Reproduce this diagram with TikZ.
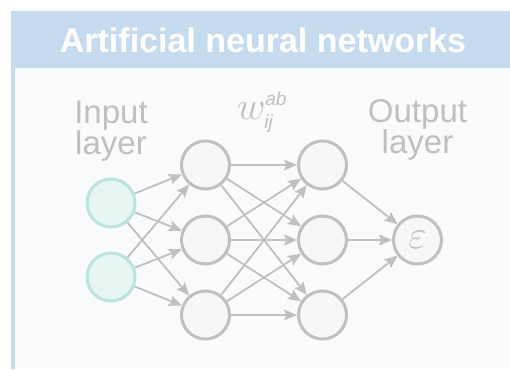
\RequirePackage{fix-cm}
\documentclass[tikz,border=0pt]{standalone}
\usepackage{fontspec}
\setmainfont{Liberation Sans}
\setsansfont{Liberation Sans}
\usetikzlibrary{positioning, arrows.meta}
\definecolor{hdrblue}{HTML}{C6DCEE}
\definecolor{panelbg}{HTML}{F9FBFD}
\definecolor{nodegray}{HTML}{C0C0C0}
\definecolor{nodefill}{HTML}{F7F7F7}
\definecolor{inteal}{HTML}{BAE4E0}
\definecolor{infill}{HTML}{E7F5F3}
\tikzstyle{neuron}     = [circle, minimum size=48pt, inner sep=0pt, line width=3pt, draw=nodegray, fill=nodefill]
\tikzstyle{inneuron}   = [neuron, draw=inteal, fill=infill]
\tikzstyle{layerlabel} = [text=nodegray, font=\fontsize{33}{27}\selectfont, align=center, inner sep=0pt]
\tikzstyle{conn}       = [-{Stealth[length=13pt,width=11pt,inset=2.5pt]}, line width=1.8pt, draw=nodegray]
\newcommand{\subit}[1]{\mbox{\fontsize{19}{19}\selectfont\itshape #1}}

\begin{document}
\begin{tikzpicture}[x=1pt, y=1pt, node distance=75pt, on grid]
            \useasboundingbox (0,0) rectangle (510,369);
            \fill[hdrblue] (11,0) rectangle (510,358);
            \fill[panelbg] (15,0) rectangle (510,301);
            \node[text=white, font=\bfseries\fontsize{34}{34}\selectfont] (title) at (263,329) {Artificial neural networks};

            \node[neuron]   (h2) at (205.5,129) {};
            \node[neuron]   (h1) [above=of h2] {};
            \node[neuron]   (h3) [below=of h2] {};
            \node[inneuron] (i1) [above left=37pt and 94.5pt of h2] {};
            \node[inneuron] (i2) [below left=37pt and 94.5pt of h2] {};
            \node[neuron]   (g2) [right=117pt of h2] {};
            \node[neuron]   (g1) [above=of g2] {};
            \node[neuron]   (g3) [below=of g2] {};
            \node[neuron, text=nodegray] (out) [right=95pt of g2] {\fontsize{40}{40}\selectfont$\varepsilon$};

            \node[layerlabel] (inlab)  [above=72pt of i1] {Input\\layer};
            \node[layerlabel] (outlab) [above=110pt of out] {Output\\layer};
            \node[text=nodegray, inner sep=0pt] (wlab) at (262,257) {\fontsize{39}{39}\selectfont$w^{\subit{ab}}_{\subit{ij}}$};

            \foreach \a in {i1,i2}
                \foreach \b in {h1,h2,h3}
                    \draw[conn] (\a) -- (\b);
            \foreach \a in {h1,h2,h3}
                \foreach \b in {g1,g2,g3}
                    \draw[conn] (\a) -- (\b);
            \foreach \a in {g1,g2,g3}
                \draw[conn] (\a) -- (out);
        \end{tikzpicture}
\end{document}
